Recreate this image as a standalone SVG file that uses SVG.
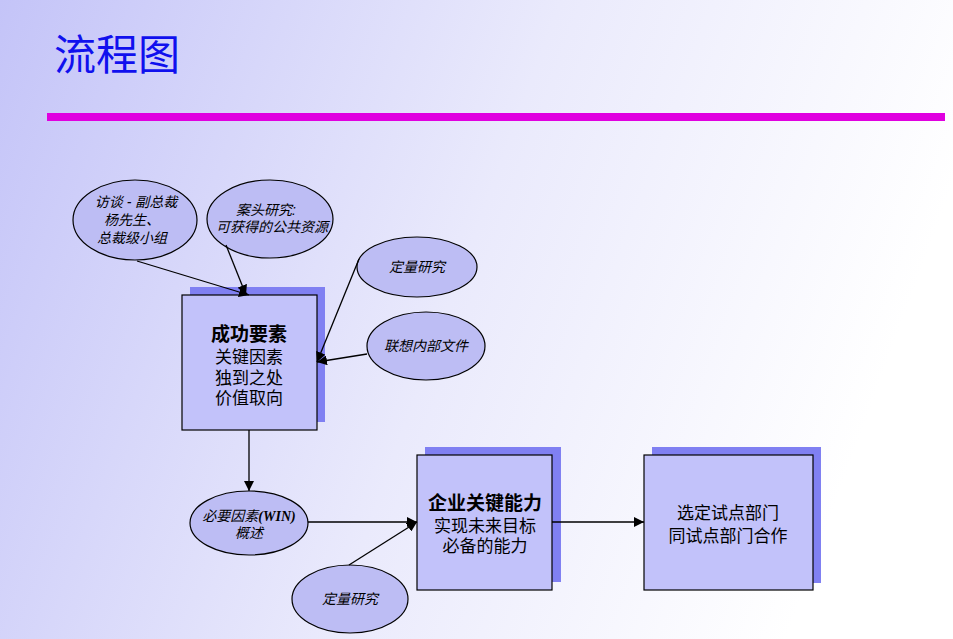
<svg xmlns="http://www.w3.org/2000/svg" width="953" height="639" viewBox="0 0 953 639">
<defs>
<linearGradient id="bg" gradientUnits="userSpaceOnUse" x1="0" y1="0" x2="900" y2="330">
<stop offset="0" stop-color="#c4c4f8"/>
<stop offset="0.55" stop-color="#eaeafc"/>
<stop offset="1" stop-color="#ffffff"/>
</linearGradient>
<marker id="arr" viewBox="0 0 10 10" refX="10" refY="5" markerWidth="10" markerHeight="10" markerUnits="userSpaceOnUse" orient="auto">
<path d="M0,0 L10,5 L0,10 z" fill="#000"/>
</marker>
</defs>
<style>
.shadow{fill:#8080f2;}
.box{fill:#c2c2fa;stroke:#000;stroke-width:1.2;}
.ell{fill:#bdbdf4;stroke:#000;stroke-width:1.2;}
.bt{font-family:"Liberation Sans","Noto Sans CJK SC",sans-serif;font-size:17px;fill:#000;text-anchor:middle;}
.bb{font-weight:bold;font-size:19px;}
.et{font-family:"Liberation Sans","Noto Sans CJK SC",sans-serif;font-size:14px;font-style:italic;fill:#000;text-anchor:middle;}
.ser{font-family:"Liberation Serif",serif;font-weight:bold;}
.conn line{stroke:#000;stroke-width:1.3;}
</style>
<rect width="953" height="639" fill="url(#bg)"/>
<text x="54" y="70" font-family="'Noto Sans CJK SC',sans-serif" font-size="42" fill="#1010ee">流程图</text>
<rect x="47" y="113" width="898" height="8" fill="#e000e0"/>

<g id="box1">
<rect class="shadow" x="190" y="287" width="135" height="135"/>
<rect class="box" x="182" y="295" width="135" height="135"/>
<text class="bt bb" x="249" y="341">成功要素</text>
<text class="bt" x="249" y="363">关键因素</text>
<text class="bt" x="249" y="384">独到之处</text>
<text class="bt" x="249" y="404">价值取向</text>
</g>
<g id="box2">
<rect class="shadow" x="425" y="447" width="136" height="135"/>
<rect class="box" x="417" y="455" width="135" height="135"/>
<text class="bt bb" x="485" y="510">企业关键能力</text>
<text class="bt" x="485" y="532">实现未来目标</text>
<text class="bt" x="485" y="552">必备的能力</text>
</g>
<g id="box3">
<rect class="shadow" x="652" y="447" width="169" height="136"/>
<rect class="box" x="644" y="455" width="169" height="135"/>
<text class="bt" x="728" y="519" font-size="19">选定试点部门</text>
<text class="bt" x="728" y="542" font-size="19">同试点部门合作</text>
</g>

<g id="e1">
<ellipse class="ell" cx="135" cy="220" rx="62" ry="40"/>
<text class="et" x="136" y="207">访谈 - 副总裁</text>
<text class="et" x="132" y="225">杨先生、</text>
<text class="et" x="132" y="243">总裁级小组</text>
</g>
<g id="e2">
<ellipse class="ell" cx="270" cy="219" rx="63" ry="39"/>
<text class="et" x="266" y="215">案头研究:</text>
<text class="et" x="272" y="232">可获得的公共资源</text>
</g>
<g id="e3">
<ellipse class="ell" cx="417" cy="267" rx="60" ry="30"/>
<text class="et" x="417" y="272">定量研究</text>
</g>
<g id="e4">
<ellipse class="ell" cx="426" cy="346" rx="59" ry="34"/>
<text class="et" x="426" y="351">联想内部文件</text>
</g>
<g id="e5">
<ellipse class="ell" cx="249" cy="523" rx="59" ry="32"/>
<text class="et" x="249" y="521">必要因素<tspan class="ser">(WIN)</tspan></text>
<text class="et" x="249" y="538">概述</text>
</g>
<g id="e6">
<ellipse class="ell" cx="350" cy="599" rx="58" ry="34"/>
<text class="et" x="350" y="604">定量研究</text>
</g>

<g id="connectors" class="conn">
<line x1="137" y1="261" x2="249" y2="295" marker-end="url(#arr)"/>
<line x1="226" y1="245" x2="246" y2="295" marker-end="url(#arr)"/>
<line x1="359" y1="259" x2="317" y2="362" marker-end="url(#arr)"/>
<line x1="367" y1="354" x2="317" y2="362" marker-end="url(#arr)"/>
<line x1="249" y1="430" x2="249" y2="491" marker-end="url(#arr)"/>
<line x1="308" y1="522" x2="417" y2="522" marker-end="url(#arr)"/>
<line x1="349" y1="565" x2="417" y2="522" marker-end="url(#arr)"/>
<line x1="552" y1="522" x2="644" y2="522" marker-end="url(#arr)"/>
</g>
</svg>
